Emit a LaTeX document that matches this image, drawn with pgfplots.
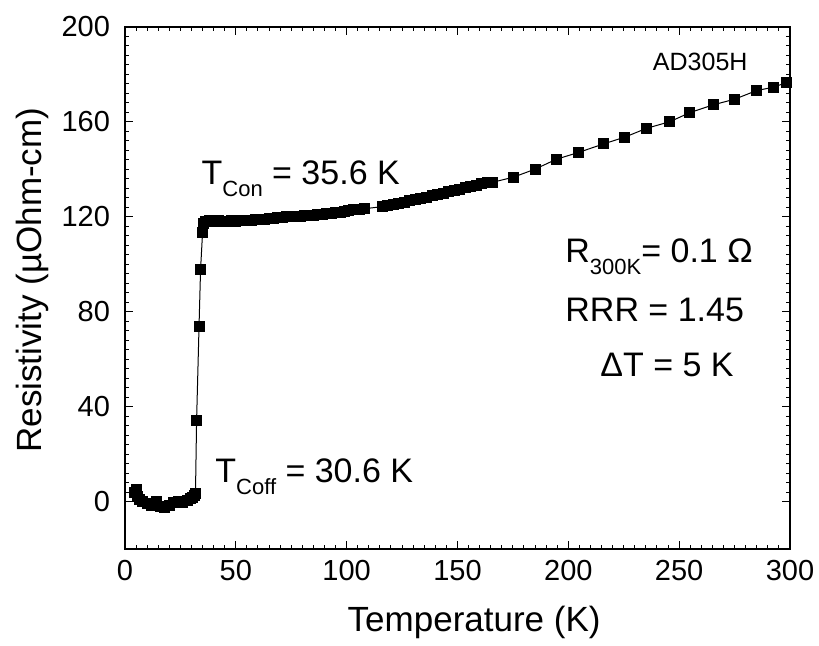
\documentclass[border=0pt]{standalone}
\usepackage{fontspec}
\setmainfont{Liberation Sans}
\usepackage{pgfplots}
\pgfplotsset{compat=1.18}
\newcommand{\sub}[1]{\raisebox{-5.8pt}{\fontsize{11}{12}\selectfont #1}}
\begin{document}
\begin{tikzpicture}
\useasboundingbox (-62.5pt,-48pt) rectangle (347pt,274.5pt);
\begin{axis}[
  at={(0,0)}, anchor=south west,
  scale only axis, width=332.5pt, height=261pt,
  xmin=0, xmax=300, ymin=-20, ymax=200,
  xtick={0,50,...,300}, ytick={0,40,...,200},
  minor x tick num=9, minor y tick num=9,
  tick align=inside,
  major tick length=4pt, minor tick length=2pt,
  every tick/.style={black, line width=0.5pt},
  axis line style={line width=0.7pt},
  /pgf/number format/assume math mode=true,
  ticklabel style={font=\fontsize{14.5}{16}\selectfont},
  yticklabel style={xshift=-4pt},
  xticklabel style={yshift=-2pt},
  xlabel={Temperature (K)},
  ylabel={Resistivity (µOhm-cm)},
  label style={font=\fontsize{17.5}{20}\selectfont},
  xlabel style={at={(axis description cs:0.525,0)}, anchor=base, yshift=-41.3pt},
  ylabel style={at={(axis description cs:-0.1251,0.515)}, anchor=base},
  clip=false,
]
\addplot[black, line width=0.5pt, mark=square*, mark size=2.5pt, mark options={solid}] coordinates {
(4.5,4) (5,5) (5.5,2) (6.5,1) (8,0) (10,-1) (12,-1.5) (14,0) (16,-2) (18,-2.7) (20,-1.5) (22,-0.5) (24,0) (26,-0.6) (28,0.5) (29.5,1.2) (30.5,1.5) (31.2,2.5) (31.8,3.5)
(32.3,34.2) (33.4,73.8) (34.1,98) (35.0,113.5) (35.6,117) (36.5,118) (38,118.5) (40,118) (42,118.5) (44,118) (46,118) (48,118.3) (50,118.2) (52,118.5)
(57,118.5) (59,118.7) (61,119) (63,119) (65,119.3) (67,119.5) (69,119.6) (71,119.8) (73,120) (75,120) (77,120.2) (79,120.3) (81,120.5) (83,120.5) (85,120.7) (87,121) (89,121) (91,121.2) (93,121.5) (95,121.8) (97,122) (99,122.3) (101,122.7) (103,123) (106,123.2) (108,123.4)
(116,124.3) (118.5,124.8) (121,125.3) (123.5,125.7) (126,126.2) (128.5,126.7) (131,127.2) (133.5,127.7) (136,128.3) (138.5,128.8) (141,129.4) (143.5,130) (146,130.6) (148.5,131.2) (151,131.7) (153.5,132.3) (156,132.9) (158.5,133.4) (161,133.9) (163.5,134.3) (166,134.6)
(175.2,136.7) (185,140.1) (194.7,144.3) (204.5,147.1) (215.8,150.7) (225.5,153.6) (235.3,157.3) (245.8,160.1) (254.8,163.9) (265.4,167.2) (275.1,169.6) (284.9,173.2) (292.4,174.6) (298.5,176.6)
};
\node[anchor=base west, font=\fontsize{17}{20}\selectfont, inner sep=0pt] at (axis cs:34.4,133.5) {T\sub{Con} = 35.6 K};
\node[anchor=base west, font=\fontsize{17}{20}\selectfont, inner sep=0pt] at (axis cs:40.6,8.0) {T\sub{Coff} = 30.6 K};
\node[anchor=base east, font=\fontsize{12.5}{14}\selectfont, inner sep=0pt] at (axis cs:281,181.6) {AD305H};
\node[anchor=base west, font=\fontsize{17}{20}\selectfont, inner sep=0pt] at (axis cs:198.5,100.6) {R\sub{300K}= 0.1 Ω};
\node[anchor=base west, font=\fontsize{17}{20}\selectfont, inner sep=0pt] at (axis cs:198.5,75.9) {RRR = 1.45};
\node[anchor=base west, font=\fontsize{17}{20}\selectfont, inner sep=0pt] at (axis cs:214.3,52.8) {ΔT = 5 K};
\end{axis}
\end{tikzpicture}
\end{document}
